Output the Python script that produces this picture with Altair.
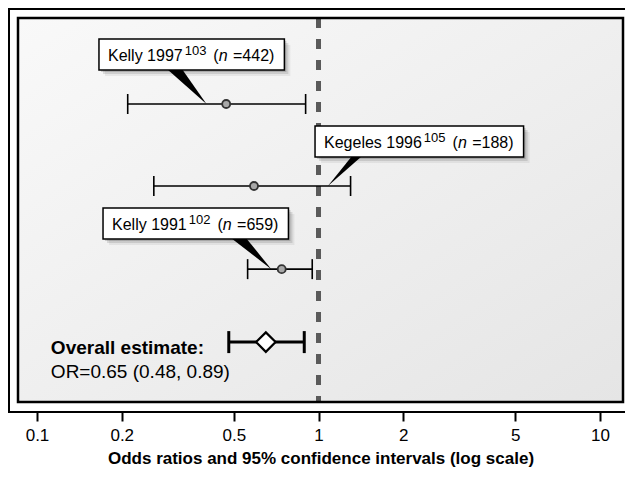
import math
import altair as alt
import pandas as pd

# ---------------- data ----------------
studies = ["Kelly 1997", "Kegeles 1996", "Kelly 1991"]
ref_nums = ["103", "105", "102"]
sample_n = [442, 188, 659]
odds_ratio = [0.47, 0.59, 0.74]
ci_low = [0.21, 0.26, 0.56]
ci_high = [0.90, 1.30, 0.95]
row_pos = [22.4, 43.75, 65.4]      # vertical slot of each study (0 = top, 100 = bottom)

overall_or = 0.65
overall_low = 0.48
overall_high = 0.89
overall_row = 84.4
overall_label = "Overall estimate:"
overall_text = "OR=0.65 (0.48, 0.89)"

tick_values = [0.1, 0.2, 0.5, 1, 2, 5, 10]
x_title = "Odds ratios and 95% confidence intervals (log scale)"

# ---------------- layout ----------------
FONT = "Liberation Sans"
W, H = 605, 384
X_DOMAIN = [0.0856, 12.07]
Y_DOMAIN = [0, 100]
PPD = W / math.log10(X_DOMAIN[1] / X_DOMAIN[0])   # px per decade
PPU = H / (Y_DOMAIN[1] - Y_DOMAIN[0])              # px per row unit


def shift_x(v, px):
    return v * 10 ** (px / PPD)


def shift_y(v, px):
    return v + px / PPU


ARIAL = {"K": 667, "e": 556, "l": 222, "y": 500, " ": 278, "g": 556, "s": 500,
         "(": 333, ")": 333, "=": 584, "n": 556}


def text_w(s, size):
    return sum(ARIAL.get(ch, 556) for ch in s) * size / 1000


# callout boxes: left edge (OR units), top (row units), pointer tip (OR), pointer base (px from box left)
callouts = [
    dict(left=0.166, top=5.5, tip=0.40, base=(68, 83)),
    dict(left=0.972, top=28.1, tip=1.08, base=(37, 47)),
    dict(left=0.1716, top=49.5, tip=0.68, base=(128, 143)),
]
BOX_H = 31
BASE = 22
PAD_L = 9
SUP = 13

reg_rows, sup_rows, ital_rows, box_rows, ptr_rows = [], [], [], [], []
for i, name in enumerate(studies):
    c = callouts[i]
    x = PAD_L
    yb = shift_y(c["top"], BASE)
    reg_rows.append(dict(t=name, x=shift_x(c["left"], x), y=yb))
    x += text_w(name, 16) + 2
    sup_rows.append(dict(t=ref_nums[i], x=shift_x(c["left"], x), y=shift_y(c["top"], BASE - 6)))
    x += text_w(ref_nums[i], SUP) + 7
    reg_rows.append(dict(t="(", x=shift_x(c["left"], x), y=yb))
    x += text_w("(", 16)
    ital_rows.append(dict(t="n", x=shift_x(c["left"], x), y=yb))
    x += text_w("n", 16) + text_w(" ", 16) + 1
    tail = f"={sample_n[i]})"
    reg_rows.append(dict(t=tail, x=shift_x(c["left"], x), y=yb))
    x += text_w(tail, 16) + 10
    box_rows.append(dict(x=c["left"], x2=shift_x(c["left"], x), y=c["top"],
                         y2=shift_y(c["top"], BOX_H)))
    ptr_rows.append(dict(k=i, y=shift_y(c["top"], BOX_H - 1),
                         x=shift_x(c["left"], c["base"][0]), x2=shift_x(c["left"], c["base"][1])))
    ptr_rows.append(dict(k=i, y=row_pos[i], x=c["tip"], x2=c["tip"]))

df = pd.DataFrame(dict(study=studies, odds=odds_ratio, lo=ci_low, hi=ci_high, row=row_pos))
df_all = pd.DataFrame(dict(odds=[overall_or], lo=[overall_low], hi=[overall_high], row=[overall_row]))
df_reg = pd.DataFrame(reg_rows)
df_sup = pd.DataFrame(sup_rows)
df_ital = pd.DataFrame(ital_rows)
df_box = pd.DataFrame(box_rows)
df_ptr = pd.DataFrame(ptr_rows)
label_left = 0.112
df_olab = pd.DataFrame(dict(t=[overall_label], x=[label_left], y=[shift_y(overall_row, 12)]))
df_otxt = pd.DataFrame(dict(t=[overall_text], x=[label_left], y=[shift_y(overall_row, 36)]))

xs = alt.Scale(type="log", domain=X_DOMAIN, nice=False, zero=False)
ys = alt.Scale(domain=Y_DOMAIN, reverse=True, nice=False, zero=False)

x_axis = alt.Axis(values=tick_values, format="~g", offset=10, domain=False, grid=False,
                  tickSize=9, tickWidth=2, tickColor="black",
                  labelFont=FONT, labelFontSize=17, labelColor="black", labelPadding=6,
                  labelOverlap=False, labelFlush=False,
                  title=x_title, titleFont=FONT, titleFontSize=17, titleFontWeight="bold",
                  titleColor="black", titlePadding=7)


def X(f, **kw):
    return alt.X(f, type="quantitative", scale=xs, axis=x_axis, **kw)


def Y(f):
    return alt.Y(f, type="quantitative", scale=ys, axis=None)


one = pd.DataFrame({"v": [1]})

bg = alt.Chart(one).mark_rect(
    fill=alt.LinearGradient(gradient="linear",
                            stops=[alt.GradientStop(offset=0, color="#f9f9f9"),
                                   alt.GradientStop(offset=1, color="#e5e5e5")],
                            x1=0, x2=1, y1=0, y2=1)
).encode(x=alt.value(0), x2=alt.value(W), y=alt.value(0), y2=alt.value(H))

frame_kw = dict(color="black", strokeWidth=2)
outer_top = alt.Chart(one).mark_rule(**frame_kw).encode(
    x=alt.value(-10), x2=alt.value(W + 2), y=alt.value(-9))
outer_left = alt.Chart(one).mark_rule(**frame_kw).encode(
    x=alt.value(-9), y=alt.value(-9), y2=alt.value(H + 10))
outer_bottom = alt.Chart(one).mark_rule(**frame_kw).encode(
    x=alt.value(-10), x2=alt.value(W + 2), y=alt.value(H + 10))

panel = alt.Chart(one).mark_rect(fill="white", fillOpacity=0, stroke="black", strokeWidth=2.5).encode(
    x=alt.value(0), x2=alt.value(W), y=alt.value(0), y2=alt.value(H))

null_line = alt.Chart(one).mark_rule(color="#5a5a5a", strokeWidth=5, strokeDash=[10, 11]).encode(
    x=X("v"))

ci = alt.Chart(df).mark_rule(color="black", strokeWidth=1.6).encode(
    x=X("lo"), x2="hi", y=Y("row"))
cap_lo = alt.Chart(df).mark_rule(color="black", strokeWidth=1.6, yOffset=-10, y2Offset=10).encode(
    x=X("lo"), y=Y("row"), y2="row")
cap_hi = alt.Chart(df).mark_rule(color="black", strokeWidth=1.6, yOffset=-10, y2Offset=10).encode(
    x=X("hi"), y=Y("row"), y2="row")
pts = alt.Chart(df).mark_point(shape="circle", filled=True, size=64, fill="#a8a8a8",
                               stroke="#333333", strokeWidth=1.8, opacity=1).encode(
    x=X("odds"), y=Y("row"))

o_line = alt.Chart(df_all).mark_rule(color="black", strokeWidth=3).encode(
    x=X("lo"), x2="hi", y=Y("row"))
o_lo = alt.Chart(df_all).mark_rule(color="black", strokeWidth=3, yOffset=-11, y2Offset=11).encode(
    x=X("lo"), y=Y("row"), y2="row")
o_hi = alt.Chart(df_all).mark_rule(color="black", strokeWidth=3, yOffset=-11, y2Offset=11).encode(
    x=X("hi"), y=Y("row"), y2="row")
o_pt = alt.Chart(df_all).mark_point(shape="diamond", filled=True, size=380, fill="white",
                                    stroke="black", strokeWidth=2.2, opacity=1).encode(
    x=X("odds"), y=Y("row"))

shadows = [
    alt.Chart(df_box).mark_rect(color="black", opacity=op, xOffset=d, x2Offset=d, yOffset=d, y2Offset=d).encode(
        x=X("x"), x2="x2", y=Y("y"), y2="y2")
    for d, op in [(2, 0.16), (4, 0.11), (6, 0.06)]
]
pointers = alt.Chart(df_ptr).mark_area(color="black", orient="horizontal").encode(
    x=X("x", stack=None), x2="x2", y=Y("y"), detail="k:N")
boxes = alt.Chart(df_box).mark_rect(fill="white", stroke="black", strokeWidth=1.5).encode(
    x=X("x"), x2="x2", y=Y("y"), y2="y2")

txt_kw = dict(align="left", baseline="alphabetic", font=FONT, color="black")
t_reg = alt.Chart(df_reg).mark_text(fontSize=16, **txt_kw).encode(x=X("x"), y=Y("y"), text="t:N")
t_sup = alt.Chart(df_sup).mark_text(fontSize=SUP, **txt_kw).encode(x=X("x"), y=Y("y"), text="t:N")
t_ital = alt.Chart(df_ital).mark_text(fontSize=16, fontStyle="italic", **txt_kw).encode(
    x=X("x"), y=Y("y"), text="t:N")
t_olab = alt.Chart(df_olab).mark_text(fontSize=19, fontWeight="bold", **txt_kw).encode(
    x=X("x"), y=Y("y"), text="t:N")
t_otxt = alt.Chart(df_otxt).mark_text(fontSize=19, **txt_kw).encode(
    x=X("x"), y=Y("y"), text="t:N")

chart = alt.layer(
    bg, outer_top, outer_left, outer_bottom, null_line, ci, cap_lo, cap_hi, pts,
    o_line, o_lo, o_hi, o_pt,
    *shadows, pointers, boxes, t_reg, t_sup, t_ital, t_olab, t_otxt, panel
).properties(
    width=W, height=H,
    autosize=alt.AutoSizeParams(type="none"),
    padding={"left": 10, "top": 10, "right": 2, "bottom": 65},
    background="white",
).configure_view(stroke=None)

chart.save("out.html", embed_options={"renderer": "svg", "actions": False})
